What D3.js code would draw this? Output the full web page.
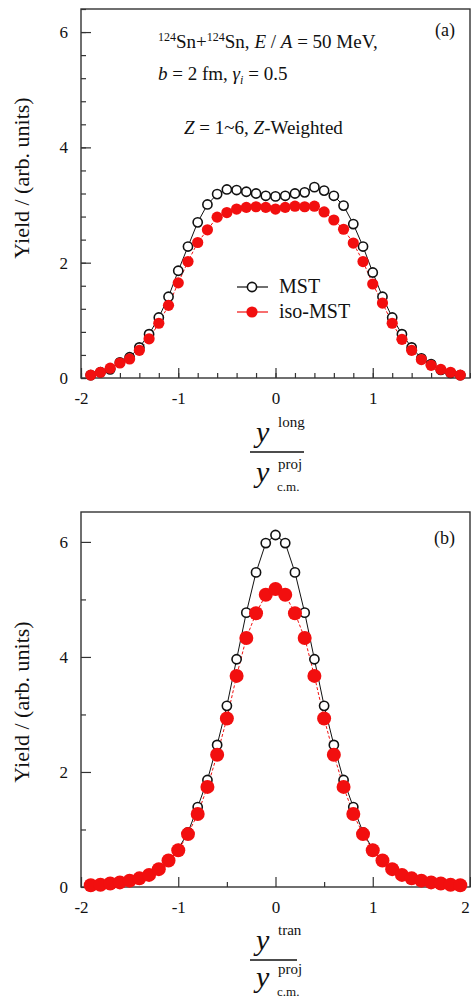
<!DOCTYPE html>
<html>
<head>
<meta charset="utf-8">
<script src="https://cdn.jsdelivr.net/npm/d3@7"></script>
<style>
  body { margin: 0; background: #fff; }
  svg text { font-family: "Liberation Serif", "Times New Roman", serif; fill: #111; font-weight: normal; }
</style>
</head>
<body>
<div id="chart"></div>
<script>
"use strict"
// panel (a): longitudinal rapidity, step 0.1 from -1.9 to 1.9
var xLong = d3.range(-19, 20).map(function(i) { return i / 10 })
var mstLong = [0.05, 0.10, 0.15, 0.27, 0.36, 0.53, 0.76, 1.05, 1.41, 1.86, 2.28, 2.70, 3.01, 3.19, 3.27, 3.26, 3.23, 3.20, 3.16,
               3.15, 3.16, 3.20, 3.22, 3.31, 3.25, 3.16, 2.99, 2.67, 2.28, 1.83, 1.41, 1.05, 0.76, 0.53, 0.34, 0.24, 0.14, 0.09, 0.05]
var isoLong = [0.05, 0.10, 0.17, 0.26, 0.33, 0.48, 0.68, 0.95, 1.26, 1.65, 2.02, 2.35, 2.57, 2.79, 2.87, 2.93, 2.96, 2.97, 2.96,
               2.93, 2.96, 2.98, 2.97, 2.98, 2.88, 2.74, 2.58, 2.34, 2.02, 1.63, 1.30, 0.95, 0.67, 0.48, 0.32, 0.22, 0.15, 0.10, 0.05]

// panel (b): transverse rapidity, same x grid
var xTran = d3.range(-19, 20).map(function(i) { return i / 10 })
var mstTran = [0.03, 0.04, 0.06, 0.08, 0.11, 0.15, 0.21, 0.31, 0.46, 0.66, 0.95, 1.39, 1.86, 2.47, 3.15, 3.96, 4.77, 5.47, 5.98,
               6.12, 5.98, 5.47, 4.77, 3.96, 3.15, 2.47, 1.86, 1.39, 0.95, 0.66, 0.46, 0.31, 0.21, 0.15, 0.11, 0.08, 0.06, 0.04, 0.03]
var isoTran = [0.03, 0.04, 0.06, 0.08, 0.11, 0.15, 0.21, 0.31, 0.46, 0.64, 0.92, 1.27, 1.74, 2.30, 2.93, 3.67, 4.33, 4.76, 5.08,
               5.18, 5.08, 4.76, 4.33, 3.67, 2.93, 2.30, 1.74, 1.27, 0.92, 0.64, 0.46, 0.31, 0.21, 0.15, 0.11, 0.08, 0.06, 0.04, 0.03]

var seriesNames = ["MST", "iso-MST"]
var red = "#f20f0f"
var serif = "Liberation Serif"

var svg = d3.select("#chart").append("svg").attr("width", 471).attr("height", 1001)

// draws one framed panel; cfg holds layout + data
function drawPanel(cfg) {
    var x = d3.scaleLinear().domain([-2, 2]).range([81, 470])
    var y = d3.scaleLinear().domain([0, cfg.yMax]).range([cfg.bottom, cfg.top])
    var g = svg.append("g")

    // minor ticks first
    g.append("g").attr("transform", "translate(0," + cfg.bottom + ")")
        .call(d3.axisBottom(x).tickValues(cfg.xMinor).tickSize(-5).tickFormat(""))
    g.append("g").attr("transform", "translate(81,0)")
        .call(d3.axisLeft(y).tickValues(cfg.yMinor).tickSize(-5).tickFormat(""))
    // major ticks
    var xa = g.append("g").attr("transform", "translate(0," + cfg.bottom + ")")
        .call(d3.axisBottom(x).tickValues(cfg.xMajor).tickSize(-10).tickPadding(14).tickFormat(d3.format("d")))
    var ya = g.append("g").attr("transform", "translate(81,0)")
        .call(d3.axisLeft(y).tickValues([0, 2, 4, 6]).tickSize(-10).tickPadding(14).tickFormat(d3.format("d")))
    g.selectAll(".domain").remove()
    g.selectAll("g").attr("font-family", serif).attr("font-size", 16)
    g.selectAll(".tick line").attr("stroke", "#333").attr("stroke-width", 1.2)
    g.selectAll(".tick text").style("font-size", "17px").attr("fill", "#111")
    xa.selectAll(".tick text").text(function(d) { return d < 0 ? "-" + (-d) : d })
        .attr("x", function(d) { return d === 2 ? -5 : 0 })
    ya.selectAll(".tick text").attr("x", -13)

    // frame
    g.append("rect").attr("x", 81).attr("y", cfg.top).attr("width", 389).attr("height", cfg.bottom - cfg.top)
        .attr("fill", "none").attr("stroke", "#333").attr("stroke-width", 1.4)

    var line = d3.line().x(function(d) { return x(d[0]) }).y(function(d) { return y(d[1]) })
    var mst = d3.zip(cfg.xs, cfg.mst)
    var iso = d3.zip(cfg.xs, cfg.iso)

    g.append("path").attr("d", line(mst)).attr("fill", "none").attr("stroke", "#111").attr("stroke-width", 1)
    g.append("path").attr("d", line(iso)).attr("fill", "none").attr("stroke", red).attr("stroke-width", 1)
        .attr("stroke-dasharray", "3,2")

    g.selectAll(".mst").data(mst).enter().append("circle")
        .attr("cx", function(d) { return x(d[0]) }).attr("cy", function(d) { return y(d[1]) })
        .attr("r", 4.6).attr("fill", "#fff").attr("stroke", "#111").attr("stroke-width", 1.6)
    g.selectAll(".iso").data(iso).enter().append("circle")
        .attr("cx", function(d) { return x(d[0]) }).attr("cy", function(d) { return y(d[1]) })
        .attr("r", cfg.isoR).attr("fill", red)

    // y label
    svg.append("text").attr("transform", "translate(29," + cfg.ylabelY + ") rotate(-90)")
        .attr("text-anchor", "middle").style("font-size", "22px").text("Yield / (arb. units)")

    // panel tag
    svg.append("text").attr("x", 455).attr("y", cfg.top + cfg.tagDy).attr("text-anchor", "end")
        .style("font-size", "18px").text(cfg.tag)

    // x title as a fraction
    var f = svg.append("g").attr("transform", "translate(0," + cfg.fracY + ")")
    f.append("text").attr("x", 256).attr("y", -10).style("font-size", "30px").style("font-style", "italic").text("y")
    f.append("text").attr("x", 278).attr("y", -25).style("font-size", "15px").text(cfg.sup)
    f.append("line").attr("x1", 250).attr("x2", cfg.barEnd).attr("y1", 0).attr("y2", 0).attr("stroke", "#111").attr("stroke-width", 1.3)
    f.append("text").attr("x", 256).attr("y", cfg.denY).style("font-size", "30px").style("font-style", "italic").text("y")
    f.append("text").attr("x", 278).attr("y", cfg.denY - 13).style("font-size", "15px").text("proj")
    f.append("text").attr("x", 277).attr("y", cfg.denY + 9).style("font-size", "13px").text("c.m.")
    return { x: x, y: y }
}

drawPanel({
    top: 9, bottom: 378, yMax: 6.4, tag: "(a)", tagDy: 27, ylabelY: 178, fracY: 452, denY: 30, sup: "long", barEnd: 304,
    xMajor: [-2, -1, 0, 1], xMinor: d3.range(-20, 21, 2).map(function(i) { return i / 10 }),
    yMinor: d3.range(0, 65, 4).map(function(i) { return i / 10 }),
    xs: xLong, mst: mstLong, iso: isoLong, isoR: 5.6
})

drawPanel({
    top: 512, bottom: 887, yMax: 6.52, tag: "(b)", tagDy: 32, ylabelY: 702, fracY: 960, denY: 27, sup: "tran", barEnd: 297,
    xMajor: [-2, -1, 0, 1, 2], xMinor: [-1.5, -0.5, 0.5, 1.5],
    yMinor: [1, 3, 5],
    xs: xTran, mst: mstTran, iso: isoTran, isoR: 7
})

// annotations in panel (a)
var ann = svg.append("g").style("font-size", "19px")
var t1 = ann.append("text").attr("x", 158).attr("y", 48)
t1.append("tspan").style("font-size", "12px").attr("dy", -7).text("124")
t1.append("tspan").attr("dy", 7).text("Sn+")
t1.append("tspan").style("font-size", "12px").attr("dy", -7).text("124")
t1.append("tspan").attr("dy", 7).text("Sn, ")
t1.append("tspan").style("font-style", "italic").text("E")
t1.append("tspan").text(" / ")
t1.append("tspan").style("font-style", "italic").text("A")
t1.append("tspan").text(" = 50 MeV,")

var t2 = ann.append("text").attr("x", 158).attr("y", 80)
t2.append("tspan").style("font-style", "italic").text("b")
t2.append("tspan").text(" = 2 fm, ")
t2.append("tspan").style("font-style", "italic").text("γ")
t2.append("tspan").style("font-style", "italic").style("font-size", "12px").attr("dy", 4).text("i")
t2.append("tspan").attr("dy", -4).text(" = 0.5")

var t3 = ann.append("text").attr("x", 184).attr("y", 134)
t3.append("tspan").style("font-style", "italic").text("Z")
t3.append("tspan").text(" = 1~6,  ")
t3.append("tspan").style("font-style", "italic").text("Z")
t3.append("tspan").text("-Weighted")

// legend
var legY = [287, 312]
var leg = svg.append("g")
seriesNames.forEach(function(name, i) {
    var c = i === 0 ? "#111" : red
    leg.append("line").attr("x1", 237).attr("x2", 268).attr("y1", legY[i]).attr("y2", legY[i])
        .attr("stroke", c).attr("stroke-width", 1.2)
    leg.append("circle").attr("cx", 252).attr("cy", legY[i]).attr("r", i === 0 ? 4.6 : 5.6)
        .attr("fill", i === 0 ? "#fff" : red).attr("stroke", i === 0 ? "#111" : "none").attr("stroke-width", 1.6)
    leg.append("text").attr("x", 279).attr("y", legY[i] + 6).style("font-size", "20px").text(name)
})
</script>
</body>
</html>
